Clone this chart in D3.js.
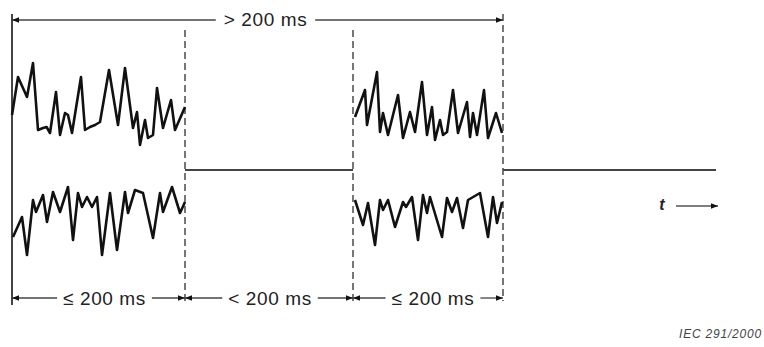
<!DOCTYPE html>
<html>
<head>
<meta charset="utf-8">
<script src="https://cdn.jsdelivr.net/npm/d3@7"></script>
<style>
  body { margin: 0; background: #fff; }
  svg { display: block; }
  text { font-family: "Liberation Sans", Arial, sans-serif; fill: #222; }
</style>
</head>
<body>
<figure id="chart" style="margin:0"></figure>
<script>
// time in ms, amplitude in arbitrary units
const bounds = [0, 86.5, 170.5, 245.5];
const restEnd = 352;
const topLabel = "> 200 ms";
const spanLabels = ["\u2264 200 ms", "< 200 ms", "\u2264 200 ms"];
const timeLabel = "t";
const sourceLabel = "IEC  291/2000";

const upper1 = [[0,25],[3,63],[7.5,43],[10.5,77],[13,10],[15.5,12],[17.3,13],[19,7],[22,48],[24,5],
  [26.5,27],[28,25],[30,7],[34.5,63],[36.5,10],[39,13],[41.5,15],[44,18],[48.5,70],[53,15],
  [56.5,72],[60.5,12],[62.5,28],[64,-5],[66.5,20],[68,2],[70.5,5],[72.5,52],[75.5,12],[79.5,40],
  [81.5,10],[86.5,33]];
const upper2 = [[171.5,23],[176.5,50],[177.5,15],[182.5,68],[184,8],[185.5,27],[188,5],[193,45],
  [195.5,2],[199,28],[201.5,8],[205,58],[207.5,5],[210,33],[211.5,0],[214,20],[215.5,5],[217.5,8],
  [220.5,50],[223,7],[227.5,38],[229,3],[230.5,27],[232.5,5],[236,50],[238,2],[242,27],[245,7]];
const lower1 = [[0.5,23],[5,43],[7.5,5],[10.5,60],[12,48],[15.5,65],[17.5,38],[20.5,68],[24,48],
  [28,73],[30.5,20],[33,67],[35,53],[37.5,63],[40,53],[42.5,63],[45,5],[49,67],[52.5,10],[56.5,68],
  [58,47],[61.5,70],[65.5,67],[70.5,22],[74,67],[75.5,48],[80,73],[84,47],[86.5,58]];
const lower2 = [[171.5,60],[175.5,35],[178,57],[181.5,15],[184,60],[185.5,50],[188,60],[191.5,33],
  [195.5,58],[197,53],[200,63],[203,20],[205.5,65],[207.5,47],[209,63],[215,23],[217.5,62],[220,48],
  [222.5,62],[225.5,32],[228,60],[234,67],[238,23],[240.5,63],[242.5,37],[245,58]];
const restLevel = 90; // in lower-band units

const width = 764, height = 347;
const x = d3.scaleLinear().domain([0, restEnd]).range([12, 716]);
const yUp = d3.scaleLinear().domain([0, 80]).range([140, 60]);
const yLow = d3.scaleLinear().domain([0, 80]).range([260, 180]);

const svg = d3.select("#chart").append("svg")
  .attr("width", width).attr("height", height);

const defs = svg.append("defs");
function marker(id, dir) {
  defs.append("marker")
    .attr("id", id).attr("viewBox", "0 0 10 10")
    .attr("refX", dir > 0 ? 10 : 0).attr("refY", 5)
    .attr("markerWidth", 11).attr("markerHeight", 7)
    .attr("markerUnits", "userSpaceOnUse").attr("orient", "0")
    .append("path")
    .attr("d", dir > 0 ? "M0,1L10,5L0,9Z" : "M10,1L0,5L10,9Z")
    .attr("fill", "#111");
}
marker("ar", 1);
marker("al", -1);

const yTop = 20, yBot = 298;

// boundary lines
svg.append("line")
  .attr("x1", x(bounds[0])).attr("x2", x(bounds[0]))
  .attr("y1", 14).attr("y2", 305)
  .attr("stroke", "#444").attr("stroke-width", 2);
bounds.slice(1).forEach((b, i) => {
  svg.append("line")
    .attr("x1", x(b)).attr("x2", x(b))
    .attr("y1", i === 2 ? 14 : 30).attr("y2", 301)
    .attr("stroke", "#555").attr("stroke-width", 1.6)
    .attr("stroke-dasharray", "7,4");
});

// top dimension
const topMid = (x(bounds[0]) + x(bounds[3])) / 2 + 8;
const tTop = svg.append("text")
  .attr("x", topMid).attr("y", yTop + 6)
  .attr("text-anchor", "middle")
  .style("font-size", "19px").style("letter-spacing", "0.6px")
  .text(topLabel);
const tb = tTop.node().getBBox();
svg.append("line")
  .attr("x1", x(bounds[0])).attr("x2", tb.x - 8)
  .attr("y1", yTop).attr("y2", yTop)
  .attr("stroke", "#444").attr("stroke-width", 1.3)
  .attr("marker-start", "url(#al)");
svg.append("line")
  .attr("x1", tb.x + tb.width + 8).attr("x2", x(bounds[3]))
  .attr("y1", yTop).attr("y2", yTop)
  .attr("stroke", "#444").attr("stroke-width", 1.3)
  .attr("marker-end", "url(#ar)");

// bottom dimensions
const labelShift = [6, 1, 5];
spanLabels.forEach((lab, i) => {
  const a = x(bounds[i]), b = x(bounds[i + 1]);
  const t = svg.append("text")
    .attr("x", (a + b) / 2 + labelShift[i]).attr("y", yBot + 7)
    .attr("text-anchor", "middle")
    .style("font-size", "19px").style("letter-spacing", "0.6px")
    .text(lab);
  const bb = t.node().getBBox();
  svg.append("line")
    .attr("x1", a).attr("x2", bb.x - 6)
    .attr("y1", yBot).attr("y2", yBot)
    .attr("stroke", "#444").attr("stroke-width", 1.3)
    .attr("marker-start", "url(#al)");
  svg.append("line")
    .attr("x1", bb.x + bb.width + 6).attr("x2", b)
    .attr("y1", yBot).attr("y2", yBot)
    .attr("stroke", "#444").attr("stroke-width", 1.3)
    .attr("marker-end", "url(#ar)");
});

// rest level lines
[[bounds[1], bounds[2]], [bounds[3], restEnd]].forEach(([a, b]) => {
  svg.append("line")
    .attr("x1", x(a)).attr("x2", x(b))
    .attr("y1", yLow(restLevel)).attr("y2", yLow(restLevel))
    .attr("stroke", "#444").attr("stroke-width", 1.8);
});

// waveforms
const lineUp = d3.line().x(d => x(d[0])).y(d => yUp(d[1]));
const lineLow = d3.line().x(d => x(d[0])).y(d => yLow(d[1]));
[upper1, upper2].forEach(s => {
  svg.append("path").datum(s).attr("d", lineUp)
    .attr("fill", "none").attr("stroke", "#111")
    .attr("stroke-width", 2.6).attr("stroke-linejoin", "round");
});
[lower1, lower2].forEach(s => {
  svg.append("path").datum(s).attr("d", lineLow)
    .attr("fill", "none").attr("stroke", "#111")
    .attr("stroke-width", 2.6).attr("stroke-linejoin", "round");
});

// time arrow
svg.append("text")
  .attr("x", 662).attr("y", 210)
  .attr("text-anchor", "middle")
  .style("font-size", "16px").style("font-style", "italic").style("font-weight", "bold")
  .text(timeLabel);
svg.append("line")
  .attr("x1", 676).attr("x2", 718)
  .attr("y1", 206).attr("y2", 206)
  .attr("stroke", "#555").attr("stroke-width", 1.5)
  .attr("marker-end", "url(#ar)");

// source note
svg.append("text")
  .attr("x", 762).attr("y", 338)
  .attr("text-anchor", "end")
  .style("font-size", "12px").style("font-style", "italic")
  .style("letter-spacing", "0.8px").style("fill", "#444")
  .text(sourceLabel);
</script>
</body>
</html>
